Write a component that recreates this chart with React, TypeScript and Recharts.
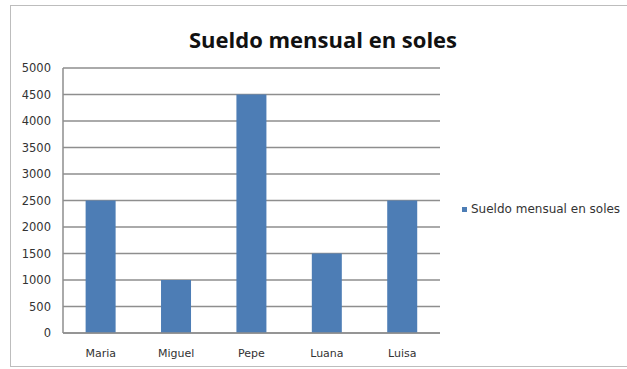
import React from 'react';
import { BarChart, Bar, XAxis, YAxis, CartesianGrid } from 'recharts';

const categories = ['Maria', 'Miguel', 'Pepe', 'Luana', 'Luisa'];
const sueldo = [2500, 1000, 4500, 1500, 2500];
const yTicks = [0, 500, 1000, 1500, 2000, 2500, 3000, 3500, 4000, 4500, 5000];

const seriesName = 'Sueldo mensual en soles';
const data = categories.map((name, i) => ({ name, value: sueldo[i] }));

const TITLE_FONT = '"Open Sans", "Liberation Sans", sans-serif';
const FONT = '"DejaVu Sans", sans-serif';
const GRID = '#8e8e8e';
const BAR = '#4d7db5';

export default function App() {
  return (
    <div style={{ position: 'absolute', left: 0, top: 0, width: 627, height: 369, background: '#fff', overflow: 'hidden' }}>
      {/* outer chart frame */}
      <div style={{ position: 'absolute', left: 10, top: 5, width: 640, height: 362, border: '1.5px solid #bdbdbd', boxSizing: 'border-box' }} />
      <div style={{ position: 'absolute', left: 0, top: 24, width: 646, textAlign: 'center', fontFamily: TITLE_FONT, fontWeight: 700, fontSize: 22, color: '#111' }}>
        {seriesName}
      </div>
      <BarChart
        width={627}
        height={369}
        data={data}
        margin={{ top: 68, right: 187, bottom: 6, left: 10 }}
        barCategoryGap="30%"
        style={{ position: 'absolute', left: 0, top: 0 }}
      >
        <CartesianGrid vertical={false} stroke={GRID} strokeWidth={1.5} />
        <XAxis
          dataKey="name"
          tickLine={false}
          axisLine={{ stroke: GRID, strokeWidth: 1.5 }}
          tick={{ fontFamily: FONT, fontSize: 11, fill: '#333' }}
          tickMargin={10}
          interval={0}
        />
        <YAxis
          width={53}
          domain={[0, 5000]}
          ticks={yTicks}
          interval={0}
          tickLine={false}
          tickSize={0}
          tickMargin={12}
          axisLine={{ stroke: GRID, strokeWidth: 1.5 }}
          tick={{ fontFamily: FONT, fontSize: 11.5, fill: '#333' }}
        />
        <Bar dataKey="value" name={seriesName} fill={BAR} isAnimationActive={false} />
      </BarChart>
      {/* legend */}
      <div style={{ position: 'absolute', left: 462, top: 202, display: 'flex', alignItems: 'center', fontFamily: FONT, fontSize: 12, color: '#333', whiteSpace: 'nowrap' }}>
        <span style={{ width: 5, height: 5, background: BAR, marginRight: 4, display: 'inline-block' }} />
        {seriesName}
      </div>
    </div>
  );
}
